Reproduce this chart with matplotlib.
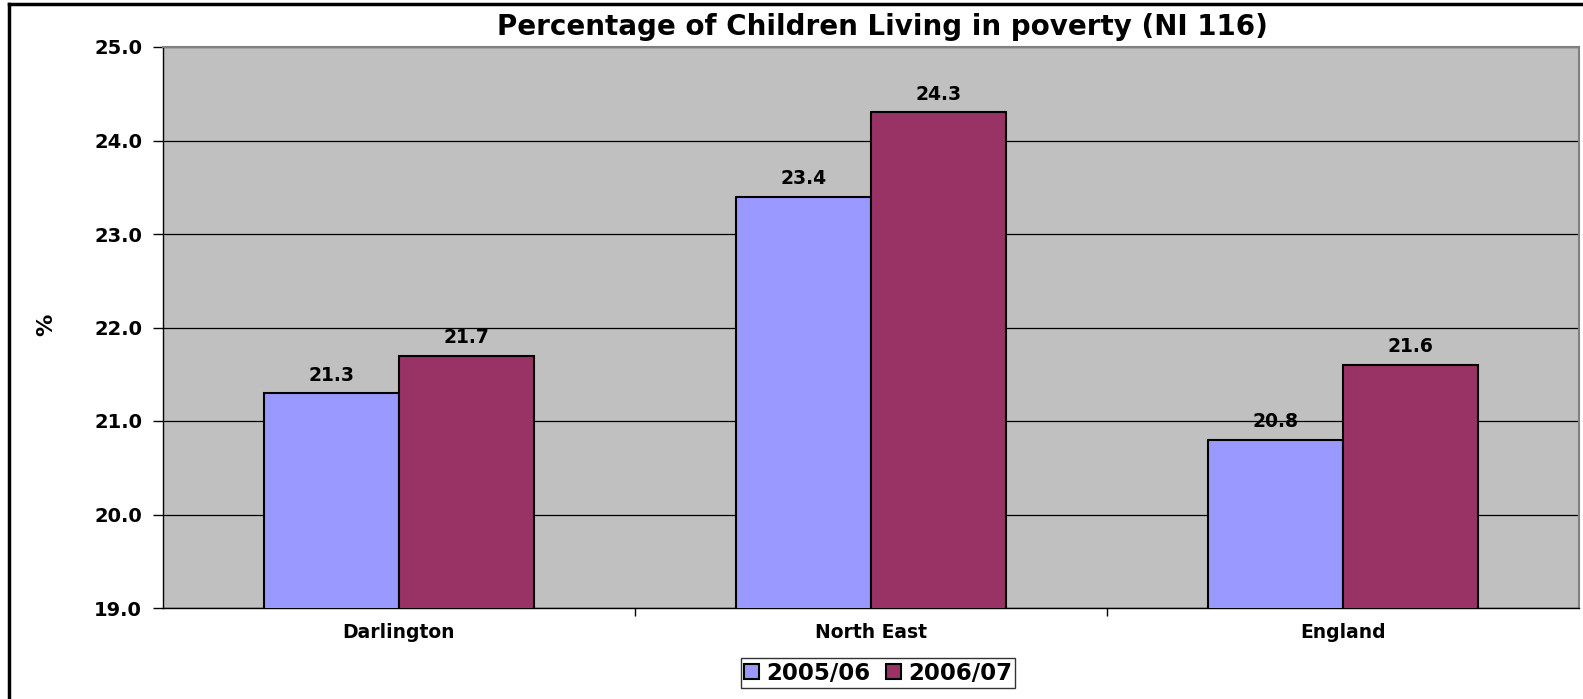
import numpy as np
import matplotlib
matplotlib.use('Agg')
import matplotlib.pyplot as plt
from matplotlib.lines import Line2D

categories = ['Darlington', 'North East', 'England']
series_names = ['2005/06', '2006/07']
values_0506 = [21.3, 23.4, 20.8]
values_0607 = [21.7, 24.3, 21.6]
colors = ['#9999FF', '#993366']

plt.rcParams['font.family'] = 'DejaVu Sans'
plt.rcParams['font.weight'] = 'bold'

fig = plt.figure(figsize=(15.83, 6.99), dpi=100)
ax = fig.add_axes([163/1583, 91/699, (1579-163)/1583, (608-47)/699])

x = np.arange(len(categories))
w = 1 / 3.5  # excel gap width 150

ax.set_facecolor('#C0C0C0')
ax.set_axisbelow(True)
ax.grid(axis='y', color='black', linewidth=0.9)

bars = []
for i, vals in enumerate([values_0506, values_0607]):
    b = ax.bar(x + (i - 0.5) * w, vals, width=w, color=colors[i],
               edgecolor='black', linewidth=1.5, label=series_names[i], zorder=3)
    bars.append(b)
    for xi, v in zip(x + (i - 0.5) * w, vals):
        ax.text(xi, v + 0.09, f'{v:.1f}', ha='center', va='bottom',
                fontsize=13.5, fontweight='bold')

ax.set_xlim(-0.5, len(categories) - 0.5)
ax.set_ylim(19, 25)
ax.set_yticks(np.arange(19, 25.1, 1))
ax.set_yticklabels([f'{v:.1f}' for v in np.arange(19, 25.1, 1)])
ax.set_xticks(x)
ax.set_xticklabels(categories)
ax.set_xticks(np.arange(0.5, len(categories) - 0.5, 1), minor=True)
ax.tick_params(axis='x', which='major', length=0, pad=11, labelsize=13.5)
ax.tick_params(axis='x', which='minor', length=6, direction='out', width=1)
ax.tick_params(axis='y', length=7, width=1, pad=8, labelsize=14)

for s in ['top', 'right']:
    ax.spines[s].set_color('#808080')
    ax.spines[s].set_linewidth(1.5)
ax.spines['left'].set_linewidth(1)
ax.spines['bottom'].set_linewidth(1)

ax.set_ylabel('%', fontsize=16, fontweight='bold')
ax.yaxis.set_label_coords((56 - 163) / 1416, 0.505)

fig.text(882/1583, 1 - 27/699, 'Percentage of Children Living in poverty (NI 116)',
         ha='center', va='center', fontsize=20, fontweight='bold')

leg = fig.legend(handles=bars, labels=series_names, loc='center',
                 bbox_to_anchor=(878/1583, 1 - 673/699), ncol=2, frameon=True,
                 fancybox=False, edgecolor='black', fontsize=16.5,
                 handlelength=0.65, handleheight=0.65, handletextpad=0.3,
                 columnspacing=0.7, borderpad=0.15, borderaxespad=0)
leg.get_frame().set_linewidth(1)

# outer chart border (top and left visible)
fig.add_artist(Line2D([8.5/1583, 8.5/1583], [0, 1 - 3.5/699], color='black', linewidth=2.5,
                      transform=fig.transFigure))
fig.add_artist(Line2D([8.5/1583, 1], [1 - 3.5/699, 1 - 3.5/699], color='black', linewidth=2.5,
                      transform=fig.transFigure))

fig.savefig('out.png', dpi=100)
